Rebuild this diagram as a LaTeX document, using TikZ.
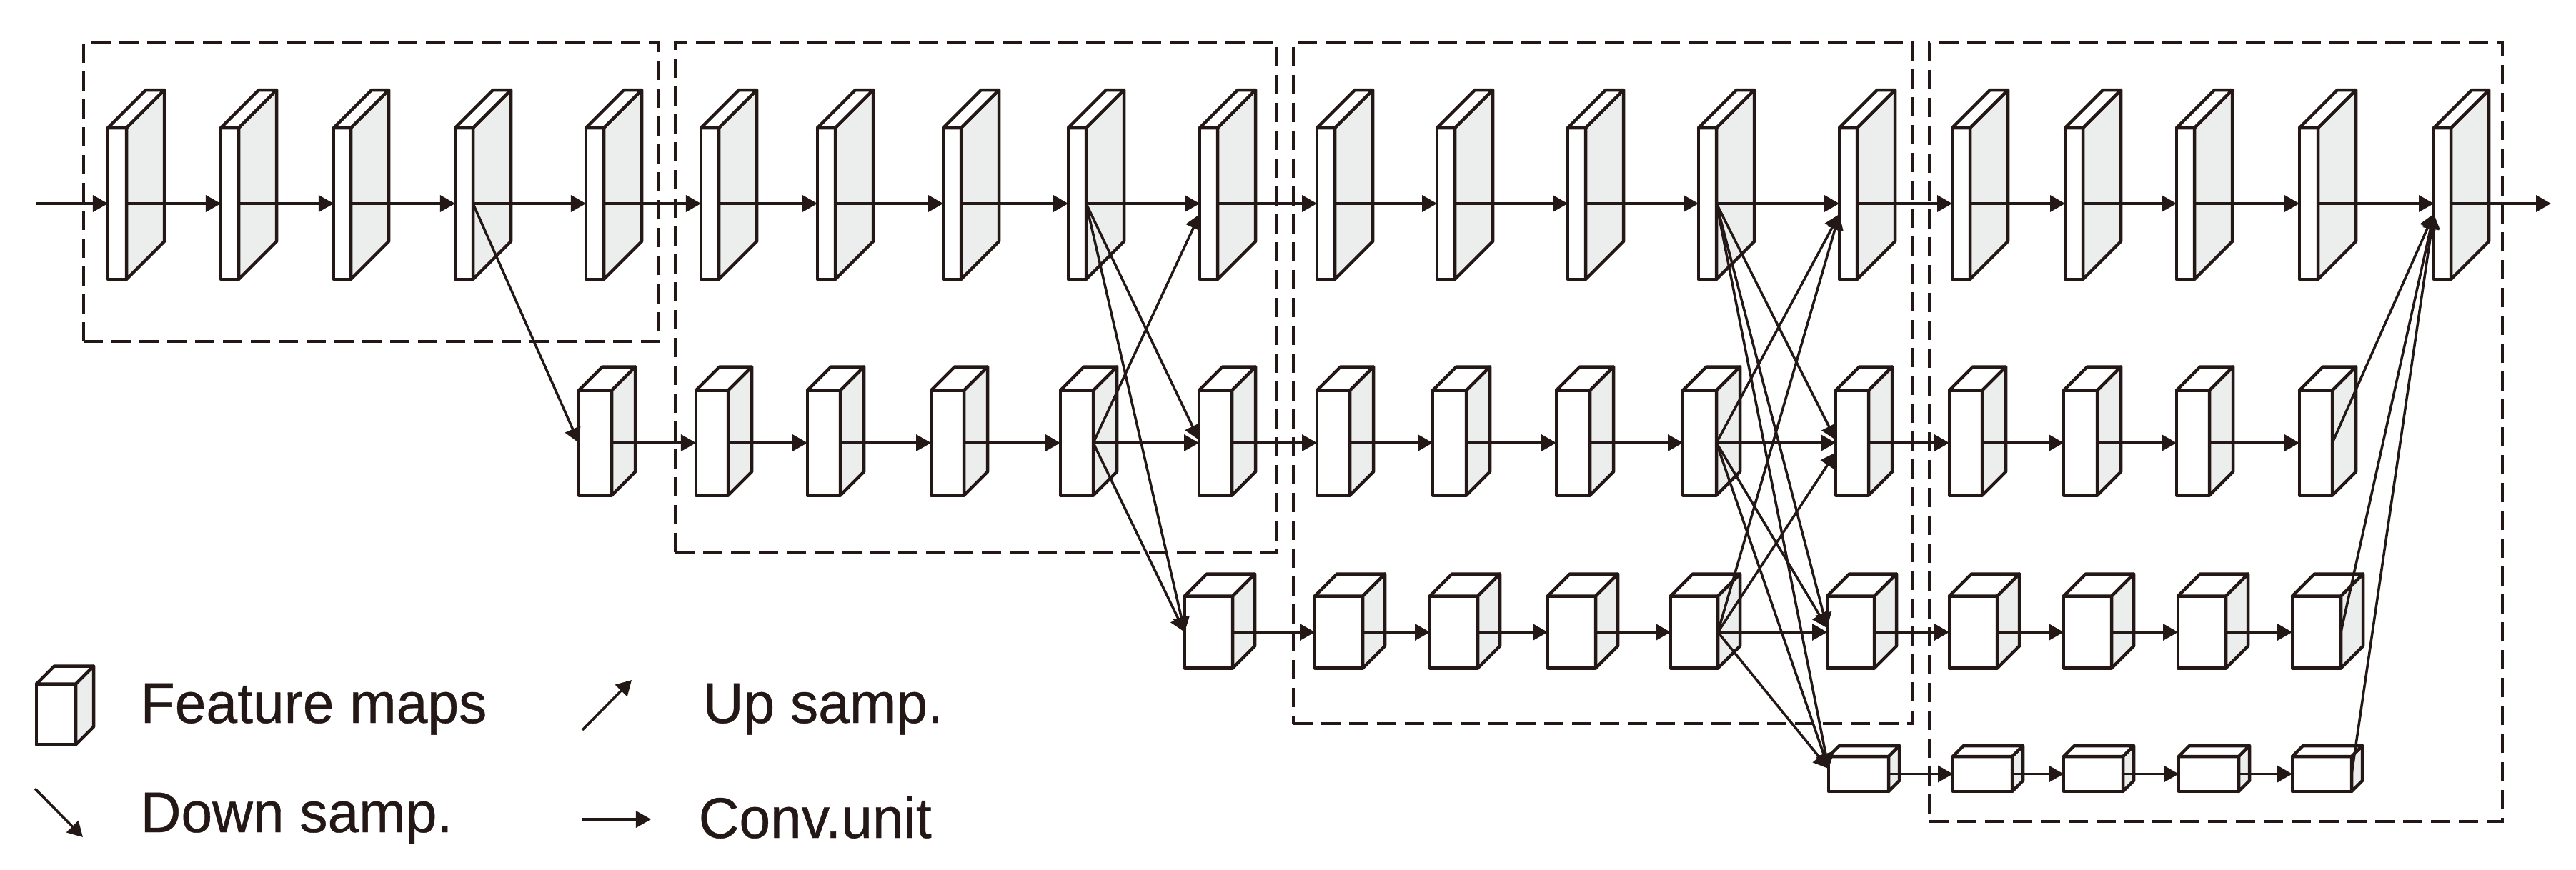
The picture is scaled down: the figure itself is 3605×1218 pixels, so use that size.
\documentclass[tikz,border=0pt]{standalone}
\usepackage{fontspec}
\setmainfont[FakeStretch=0.98,FakeBold=0.5]{Liberation Sans}
\usetikzlibrary{positioning, calc, arrows.meta, fit, backgrounds}
\definecolor{sidegray}{HTML}{ECEEED}
\definecolor{inkline}{HTML}{231815}

% name, left, right, row centre, height, depth
\newcommand{\fmap}[6]{
  \node[frontface, minimum width={(#3-#2)*0.01cm}, minimum height={#5*0.01cm}] (#1) at ({(#2+#3)/2},#4) {};
  \draw[edge, fill=sidegray] (#1.north east) -- (#1.south east) -- ++(#6,-#6) -- ++(0,-#5) -- cycle;
  \draw[edge, fill=white] (#1.north west) -- ++(#6,-#6) -- ($(#1.north east)+(#6,-#6)$) -- (#1.north east) -- cycle;
}
\newcommand{\rowa}[3]{\fmap{#1}{#2}{#3}{285}{212}{53}}
\newcommand{\rowb}[3]{\fmap{#1}{#2}{#3}{620}{147}{33}}
\newcommand{\rowc}[3]{\fmap{#1}{#2}{#3}{885}{101}{31}}
\newcommand{\rowd}[3]{\fmap{#1}{#2}{#3}{1083.5}{49}{15}}

\begin{document}
\begin{tikzpicture}[
    x=0.01cm,
    y=-0.01cm,
    >={Triangle[length=0.21cm,width=0.23cm]},
    edge/.style={draw=inkline, line width=0.045cm, line join=round},
    frontface/.style={edge, fill=white, inner sep=0pt, outer sep=0pt},
    conv/.style={->, draw=inkline, fill=inkline, line width=0.035cm},
    samp/.style={->, draw=inkline, fill=inkline, line width=0.035cm},
    groupbox/.style={
        draw=inkline,
        line width=0.04cm,
        dash pattern=on 0.27cm off 0.12cm,
        inner sep=0pt,
        outer sep=0pt
    },
    legendtext/.style={
        anchor=base west,
        inner sep=0pt,
        text=inkline,
        font=\fontsize{22.8pt}{26pt}\selectfont
    }
]
\useasboundingbox (0,0) rectangle (3605,1218);

\begin{scope}[on background layer]
  \node[groupbox, fit={(117,60)(922,478)}] (stage1) {};
  \node[groupbox, fit={(945,60)(1787,773)}] (stage2) {};
  \node[groupbox, fit={(1810,60)(2677,1013)}] (stage3) {};
  \node[groupbox, fit={(2700,60)(3502,1150)}] (stage4) {};
\end{scope}

\rowa{a1}{151}{177}
\rowa{a2}{309}{334}
\rowa{a3}{467}{491}
\rowa{a4}{637}{662}
\rowa{a5}{820}{845}
\rowa{a6}{981}{1006}
\rowa{a7}{1144}{1169}
\rowa{a8}{1320}{1345}
\rowa{a9}{1495}{1520}
\rowa{a10}{1679}{1704}
\rowa{a11}{1843}{1868}
\rowa{a12}{2011}{2036}
\rowa{a13}{2194}{2219}
\rowa{a14}{2377}{2402}
\rowa{a15}{2574}{2599}
\rowa{a16}{2732}{2757}
\rowa{a17}{2890}{2915}
\rowa{a18}{3046}{3071}
\rowa{a19}{3218}{3244}
\rowa{a20}{3406}{3430}

\rowb{b1}{810}{856}
\rowb{b2}{974}{1019}
\rowb{b3}{1130}{1176}
\rowb{b4}{1303}{1349}
\rowb{b5}{1484}{1530}
\rowb{b6}{1678}{1724}
\rowb{b7}{1843}{1889}
\rowb{b8}{2005}{2052}
\rowb{b9}{2178}{2225}
\rowb{b10}{2355}{2402}
\rowb{b11}{2569}{2615}
\rowb{b12}{2728}{2774}
\rowb{b13}{2888}{2935}
\rowb{b14}{3046}{3092}
\rowb{b15}{3218}{3264}

\rowc{c1}{1658}{1725}
\rowc{c2}{1840}{1907}
\rowc{c3}{2001}{2068}
\rowc{c4}{2166}{2233}
\rowc{c5}{2338}{2404}
\rowc{c6}{2557}{2623}
\rowc{c7}{2728}{2795}
\rowc{c8}{2888}{2955}
\rowc{c9}{3048}{3115}
\rowc{c10}{3208}{3276}

\rowd{d1}{2559}{2643}
\rowd{d2}{2733}{2816}
\rowd{d3}{2888}{2971}
\rowd{d4}{3049}{3133}
\rowd{d5}{3208}{3291}

\coordinate (input) at (50,285);
\coordinate (output) at (3570,285);

\draw[conv] (input) -- (a1.west);
\draw[conv] (a1.east) -- (a2.west);
\draw[conv] (a2.east) -- (a3.west);
\draw[conv] (a3.east) -- (a4.west);
\draw[conv] (a4.east) -- (a5.west);
\draw[conv] (a5.east) -- (a6.west);
\draw[conv] (a6.east) -- (a7.west);
\draw[conv] (a7.east) -- (a8.west);
\draw[conv] (a8.east) -- (a9.west);
\draw[conv] (a9.east) -- (a10.west);
\draw[conv] (a10.east) -- (a11.west);
\draw[conv] (a11.east) -- (a12.west);
\draw[conv] (a12.east) -- (a13.west);
\draw[conv] (a13.east) -- (a14.west);
\draw[conv] (a14.east) -- (a15.west);
\draw[conv] (a15.east) -- (a16.west);
\draw[conv] (a16.east) -- (a17.west);
\draw[conv] (a17.east) -- (a18.west);
\draw[conv] (a18.east) -- (a19.west);
\draw[conv] (a19.east) -- (a20.west);
\draw[conv] (a20.east) -- (output);

\draw[conv] (b1.east) -- (b2.west);
\draw[conv] (b2.east) -- (b3.west);
\draw[conv] (b3.east) -- (b4.west);
\draw[conv] (b4.east) -- (b5.west);
\draw[conv] (b5.east) -- (b6.west);
\draw[conv] (b6.east) -- (b7.west);
\draw[conv] (b7.east) -- (b8.west);
\draw[conv] (b8.east) -- (b9.west);
\draw[conv] (b9.east) -- (b10.west);
\draw[conv] (b10.east) -- (b11.west);
\draw[conv] (b11.east) -- (b12.west);
\draw[conv] (b12.east) -- (b13.west);
\draw[conv] (b13.east) -- (b14.west);
\draw[conv] (b14.east) -- (b15.west);

\draw[conv] (c1.east) -- (c2.west);
\draw[conv] (c2.east) -- (c3.west);
\draw[conv] (c3.east) -- (c4.west);
\draw[conv] (c4.east) -- (c5.west);
\draw[conv] (c5.east) -- (c6.west);
\draw[conv] (c6.east) -- (c7.west);
\draw[conv] (c7.east) -- (c8.west);
\draw[conv] (c8.east) -- (c9.west);
\draw[conv] (c9.east) -- (c10.west);

\draw[conv] (d1.east) -- (d2.west);
\draw[conv] (d2.east) -- (d3.west);
\draw[conv] (d3.east) -- (d4.west);
\draw[conv] (d4.east) -- (d5.west);

\draw[samp] (a4.east) -- (b1.west);

\draw[samp] (a9.east) -- (b6.170);
\draw[samp] (a9.east) -- (c1.west);
\draw[samp] (b5.east) -- (a10.230);
\draw[samp] (b5.east) -- (c1.west);

\draw[samp] (a14.east) -- (b11.170);
\draw[samp] (a14.east) -- (c6.170);
\draw[samp] (a14.east) -- (d1.170);
\draw[samp] (b10.east) -- (a15.230);
\draw[samp] (b10.east) -- (c6.170);
\draw[samp] (b10.east) -- (d1.170);
\draw[samp] (c5.east) -- (a15.230);
\draw[samp] (c5.east) -- (b11.210);
\draw[samp] (c5.east) -- (d1.170);

\draw[samp] (b15.east) -- (a20.230);
\draw[samp] (c10.east) -- (a20.230);
\draw[samp] (d5.east) -- (a20.230);

\fmap{fm}{51}{106}{1000}{85}{25}
\node[legendtext] (fmtext) at (196,1012) {Feature maps};
\node[legendtext] (downtext) at (196,1165) {Down samp.};
\node[legendtext] (uptext) at (983,1012) {Up samp.};
\node[legendtext] (convtext) at (977,1173) {Conv.unit};

\coordinate (upa) at (815,1022);
\coordinate (upb) at (884,952);
\coordinate (downa) at (49,1104);
\coordinate (downb) at (116,1172);
\coordinate (conva) at (815,1147);
\coordinate (convb) at (911,1147);
\draw[samp] (upa) -- (upb);
\draw[samp] (downa) -- (downb);
\draw[conv] (conva) -- (convb);

\end{tikzpicture}
\end{document}
